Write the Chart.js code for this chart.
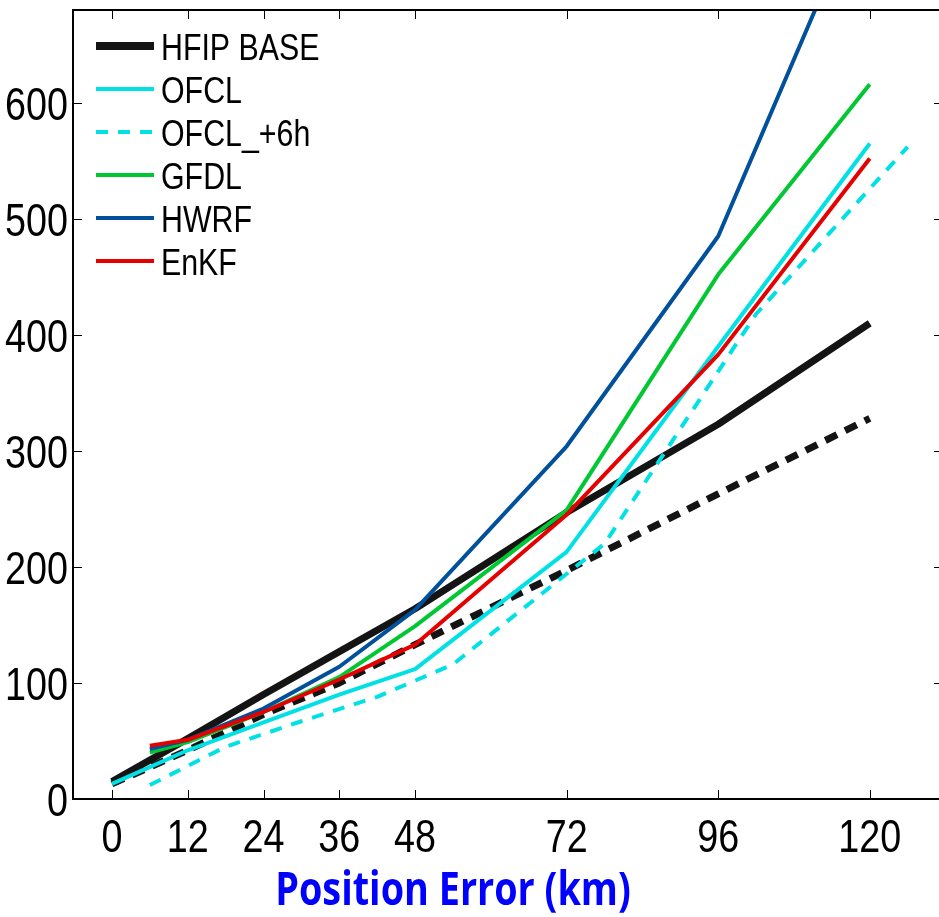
<!DOCTYPE html>
<html lang="en">
<head>
  <meta charset="UTF-8">
  <title>Position Error (km)</title>
  <script src="https://cdn.jsdelivr.net/npm/chart.js"></script>
  <style>
    html, body { margin: 0; padding: 0; background: #fff; overflow: hidden; }
    #wrap { width: 946px; height: 917px; }
  </style>
</head>
<body>
  <div id="wrap"><canvas id="chart" width="946" height="917"></canvas></div>

  <script>
    // lead times (h)
    const leadHours = [0, 12, 24, 36, 48, 72, 96, 120];
    const modelHours = [6, 12, 24, 36, 48, 72, 96, 120];
    const shiftedHours = [6, 18, 30, 42, 54, 78, 102, 126];

    // values
    const hfipBase = [15, 52, 90, 127, 164, 247, 323, 410];
    const hfipGoal = [13, 42, 73, 100, 133, 197, 263, 328];
    const ofcl = [13, 42, 66, 90, 112, 213, 390, 565];
    const ofclPlus6h = [12, 45, 67, 88, 116, 220, 418, 562];
    const gfdl = [40, 49, 75, 105, 149, 249, 452, 616];
    const hwrf = [43, 51, 78, 114, 163, 304, 485, 790];
    const enkf = [46, 51, 75, 103, 133, 245, 383, 552];

    const xTickValues = [0, 12, 24, 36, 48, 72, 96, 120];
    const yTickValues = [0, 100, 200, 300, 400, 500, 600];

    const fontFamily = '"Liberation Sans", Arial, sans-serif';

    function pts(xs, ys) {
      return xs.map((x, i) => ({ x: x, y: ys[i] }));
    }

    // the original labels are a narrow sans, so squeeze the text sideways
    function narrowText(ctx, text, x, y, align, squeeze) {
      ctx.save();
      ctx.translate(x, y);
      ctx.scale(squeeze, 1);
      ctx.textAlign = align;
      ctx.fillText(text, 0, 0);
      ctx.restore();
    }

    // inward ticks, box, tick labels, legend and the blue axis title
    const framePlugin = {
      id: 'frame',
      afterDraw(chart) {
        const { ctx, chartArea: a, scales } = chart;
        const x = scales.x, y = scales.y;
        ctx.save();
        ctx.strokeStyle = '#000';
        ctx.lineWidth = 1;
        ctx.beginPath();
        xTickValues.forEach(v => {
          const px = Math.round(x.getPixelForValue(v)) + 0.5;
          ctx.moveTo(px, a.bottom); ctx.lineTo(px, a.bottom - 9);
          ctx.moveTo(px, a.top); ctx.lineTo(px, a.top + 9);
        });
        yTickValues.forEach(v => {
          const py = Math.round(y.getPixelForValue(v)) + 0.5;
          ctx.moveTo(a.left, py); ctx.lineTo(a.left + 9, py);
          ctx.moveTo(a.right, py); ctx.lineTo(a.right - 9, py);
        });
        ctx.stroke();

        ctx.lineWidth = 2;
        ctx.strokeRect(a.left, a.top, a.right - a.left, a.bottom - a.top);

        // tick labels
        ctx.fillStyle = '#000';
        ctx.font = '46px ' + fontFamily;
        ctx.textBaseline = 'alphabetic';
        xTickValues.forEach(v => {
          narrowText(ctx, String(v), x.getPixelForValue(v), a.bottom + 53, 'center', 0.82);
        });
        yTickValues.forEach(v => {
          narrowText(ctx, String(v), a.left - 5, y.getPixelForValue(v) + 17, 'right', 0.82);
        });

        // legend
        let row = 0;
        chart.data.datasets.forEach(ds => {
          if (ds.noLegend) return;
          const cy = 46 + row * 43;
          ctx.beginPath();
          ctx.strokeStyle = ds.borderColor;
          ctx.lineWidth = ds.legendWidth || ds.borderWidth;
          ctx.setLineDash(ds.borderDash || []);
          ctx.moveTo(96, cy);
          ctx.lineTo(154, cy);
          ctx.stroke();
          ctx.setLineDash([]);
          ctx.fillStyle = '#000';
          ctx.font = '37px ' + fontFamily;
          narrowText(ctx, ds.label, 161, cy + 13.5, 'left', 0.82);
          row++;
        });

        ctx.fillStyle = '#0000ff';
        ctx.font = 'bold 42px "Open Sans", sans-serif';
        ctx.save();
        ctx.translate(453, 905);
        ctx.scale(0.9, 1.1);
        ctx.textAlign = 'center';
        ctx.fillText('Position Error (km)', 0, 0);
        ctx.restore();
        ctx.restore();
      }
    };

    new Chart(document.getElementById('chart'), {
      type: 'line',
      data: {
        datasets: [
          { label: 'HFIP BASE', data: pts(leadHours, hfipBase), borderColor: '#141414', borderWidth: 7, legendWidth: 8, order: 10 },
          { label: 'HFIP GOAL', data: pts(leadHours, hfipGoal), borderColor: '#141414', borderWidth: 7, borderDash: [13, 9], noLegend: true, order: 9 },
          { label: 'OFCL', data: pts(leadHours, ofcl), borderColor: '#00e1e6', borderWidth: 4, order: 6 },
          { label: 'OFCL_+6h', data: pts(shiftedHours, ofclPlus6h), borderColor: '#00e1e6', borderWidth: 4, borderDash: [12, 10], order: 8 },
          { label: 'GFDL', data: pts(modelHours, gfdl), borderColor: '#00c832', borderWidth: 4, order: 7 },
          { label: 'HWRF', data: pts(modelHours, hwrf), borderColor: '#00509b', borderWidth: 4, order: 5 },
          { label: 'EnKF', data: pts(modelHours, enkf), borderColor: '#e60000', borderWidth: 4, order: 4 }
        ]
      },
      options: {
        responsive: false,
        animation: false,
        devicePixelRatio: 1,
        layout: { padding: { top: 10, right: 3, left: 0, bottom: 0 } },
        elements: {
          point: { radius: 0 },
          line: { tension: 0, fill: false, borderJoinStyle: 'round' }
        },
        plugins: {
          legend: { display: false },
          tooltip: { enabled: false }
        },
        scales: {
          x: {
            type: 'linear',
            min: -6.17,
            max: 131.6,
            grid: { display: false },
            border: { display: false },
            ticks: { display: false },
            afterBuildTicks: s => { s.ticks = xTickValues.map(v => ({ value: v })); },
            afterFit: s => { s.height = 118; }
          },
          y: {
            min: 0,
            max: 680,
            grid: { display: false },
            border: { display: false },
            ticks: { display: false },
            afterBuildTicks: s => { s.ticks = yTickValues.map(v => ({ value: v })); },
            afterFit: s => { s.width = 73; }
          }
        }
      },
      plugins: [framePlugin]
    });
  </script>
</body>
</html>
